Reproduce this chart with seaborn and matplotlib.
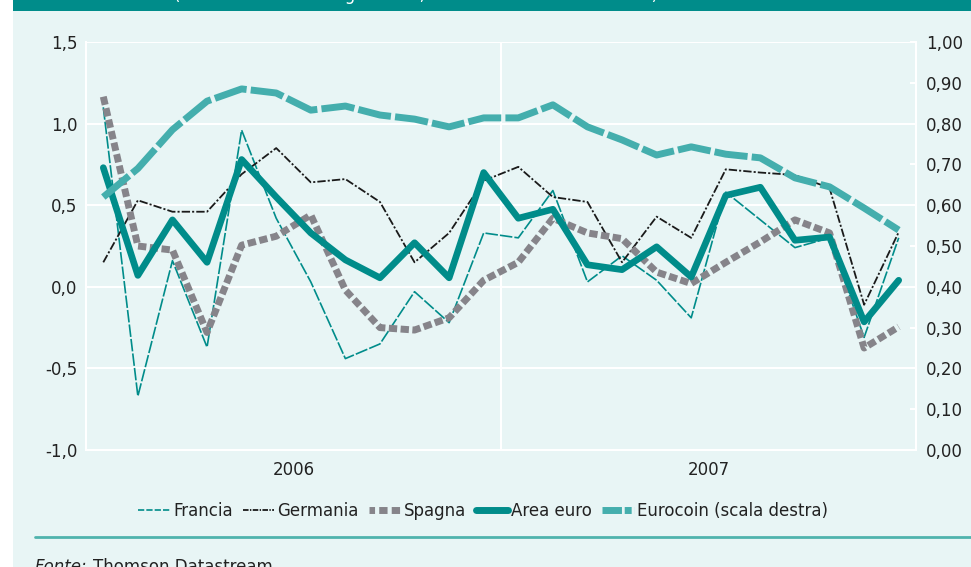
import numpy as np
import pandas as pd
import matplotlib
matplotlib.use("Agg")
import matplotlib.pyplot as plt
import seaborn as sns
from matplotlib.lines import Line2D

# monthly data, Jan 2006 - Dec 2007
mesi = pd.period_range("2006-01", "2007-12", freq="M").strftime("%Y-%m").tolist()
francia = [1.10, -0.67, 0.16, -0.37, 0.96, 0.42, 0.03, -0.44, -0.35, -0.03, -0.22, 0.33,
           0.30, 0.59, 0.03, 0.19, 0.04, -0.19, 0.58, 0.41, 0.24, 0.30, -0.31, 0.30]
germania = [0.15, 0.53, 0.46, 0.46, 0.69, 0.85, 0.64, 0.66, 0.52, 0.15, 0.33, 0.65,
            0.735, 0.55, 0.52, 0.15, 0.43, 0.30, 0.72, 0.70, 0.685, 0.605, -0.11, 0.335]
spagna = [1.165, 0.25, 0.225, -0.28, 0.255, 0.31, 0.44, -0.02, -0.25, -0.265, -0.19, 0.04,
          0.15, 0.42, 0.33, 0.295, 0.09, 0.02, 0.15, 0.275, 0.41, 0.33, -0.375, -0.245]
area_euro = [0.73, 0.07, 0.41, 0.15, 0.78, 0.55, 0.33, 0.165, 0.055, 0.27, 0.055, 0.70,
             0.42, 0.475, 0.135, 0.105, 0.245, 0.06, 0.56, 0.61, 0.285, 0.305, -0.215, 0.04]
eurocoin = [0.62, 0.69, 0.785, 0.855, 0.885, 0.875, 0.833, 0.843, 0.821, 0.811, 0.792, 0.814,
            0.814, 0.846, 0.792, 0.76, 0.723, 0.743, 0.725, 0.716, 0.667, 0.645, 0.593, 0.539]
anni = ["2006", "2007"]
left_ticks = [1.5, 1.0, 0.5, 0.0, -0.5, -1.0]
right_ticks = [1.0, 0.9, 0.8, 0.7, 0.6, 0.5, 0.4, 0.3, 0.2, 0.1, 0.0]

df = pd.DataFrame({"mese": mesi, "Francia": francia, "Germania": germania,
                   "Spagna": spagna, "Area euro": area_euro, "Eurocoin": eurocoin})
df["pos"] = np.arange(len(df))

sns.set_style("white")
plt.rcParams["font.family"] = ["DejaVu Sans"]
plt.rcParams["lines.scale_dashes"] = False

bg = "#e8f5f5"
teal = "#008c8a"
light_teal = "#44aead"
grey = "#86848a"
txt = "#222222"
fs = 12

fig = plt.figure(figsize=(9.71, 5.67), dpi=100)
fig.patch.set_facecolor("white")
# light background panel and top banner
fig.patches.append(plt.Rectangle((13 / 971, 0), 1, 1, transform=fig.transFigure,
                                 facecolor=bg, edgecolor="none", zorder=-10))
fig.patches.append(plt.Rectangle((13 / 971, 1 - 11 / 567), 1, 11 / 567, transform=fig.transFigure,
                                 facecolor=teal, edgecolor="none", zorder=-9))
# title sits above the crop, only its descenders show
fig.text(416 / 971, 1.0, "(tassi di crescita congiuntural, medie mobili di tre termini)",
         color="white", fontsize=fs, ha="center", va="baseline")

ax = fig.add_axes([86 / 971, 1 - 450 / 567, 830 / 971, 408 / 567])
ax.set_facecolor(bg)

sns.lineplot(data=df, x="pos", y="Francia", ax=ax, color=teal, linewidth=1.2,
             linestyle=(0, (9, 1.5)), label="Francia", legend=False)
sns.lineplot(data=df, x="pos", y="Germania", ax=ax, color="#1a1a1a", linewidth=1.3,
             linestyle=(0, (6, 1.5, 1.5, 1.5)), label="Germania", legend=False)
sns.lineplot(data=df, x="pos", y="Spagna", ax=ax, color=grey, linewidth=5,
             linestyle=(0, (6, 2.5)), label="Spagna", legend=False)
sns.lineplot(data=df, x="pos", y="Area euro", ax=ax, color=teal, linewidth=4.8,
             label="Area euro", legend=False)

ax.set_xlim(-0.5, 23.5)
ax.set_ylim(-1.0, 1.5)
ax.set_yticks(left_ticks)
ax.set_yticklabels([f"{v:.1f}".replace(".", ",") for v in left_ticks])
ax.grid(axis="y", color="white", linewidth=1.5)
ax.axvline(11.5, color="white", linewidth=1.5, zorder=0.5)
ax.set_xticks([3.5, 7.5, 11.5, 15.5, 19.5])
ax.set_xticklabels([])
ax.set_xticks([5.5, 17.5], minor=True)
ax.set_xticklabels(anni, minor=True)
ax.tick_params(axis="x", which="major", length=4, color="white", width=1.5, direction="out")
ax.tick_params(axis="x", which="minor", length=0, pad=8, labelsize=fs, labelcolor=txt)
ax.tick_params(axis="y", length=0, pad=6, labelsize=fs, labelcolor=txt)
ax.set_xlabel("")
ax.set_ylabel("")
ax.spines["top"].set_visible(False)
for s in ["left", "right", "bottom"]:
    ax.spines[s].set_color("white")
    ax.spines[s].set_linewidth(1.5)

ax2 = ax.twinx()
sns.lineplot(data=df, x="pos", y="Eurocoin", ax=ax2, color=light_teal, linewidth=5,
             linestyle=(0, (24, 3)), label="Eurocoin (scala destra)", legend=False)
ax2.set_ylim(0, 1.0)
ax2.set_yticks(right_ticks)
ax2.set_yticklabels([f"{v:.2f}".replace(".", ",") for v in right_ticks])
ax2.tick_params(axis="y", length=4, width=1.5, color="white", direction="in", pad=7,
                labelsize=fs, labelcolor=txt)
ax2.set_ylabel("")
for s in ax2.spines.values():
    s.set_visible(False)
ax2.set_xlim(-0.5, 23.5)

handles = [
    Line2D([], [], color=teal, linewidth=1.2, linestyle=(0, (4.5, 1.5))),
    Line2D([], [], color="#1a1a1a", linewidth=1.3, linestyle=(0, (4, 1, 1, 1))),
    Line2D([], [], color=grey, linewidth=5, linestyle=(2, (6, 3))),
    Line2D([], [], color=teal, linewidth=5),
    Line2D([], [], color=light_teal, linewidth=5, linestyle=(0, (14, 2, 5, 2))),
]
labels = ["Francia", "Germania", "Spagna", "Area euro", "Eurocoin (scala destra)"]
fig.legend(handles, labels, loc="center", bbox_to_anchor=(483 / 971, 1 - 511 / 567), ncol=5,
           frameon=False, fontsize=fs, handlelength=1.9, handletextpad=0.2,
           columnspacing=0.6, labelcolor=txt)

fig.add_artist(Line2D([35 / 971, 1], [1 - 537 / 567, 1 - 537 / 567], transform=fig.transFigure,
                      color="#4fb3ad", linewidth=2))
fig.text(35 / 971, 1 - 558 / 567, "Fonte:", fontstyle="italic", fontsize=fs, color=txt, va="top")
fig.text(93 / 971, 1 - 558 / 567, "Thomson Datastream", fontsize=fs, color=txt, va="top")

fig.savefig("out.png", dpi=100, facecolor=fig.get_facecolor())
